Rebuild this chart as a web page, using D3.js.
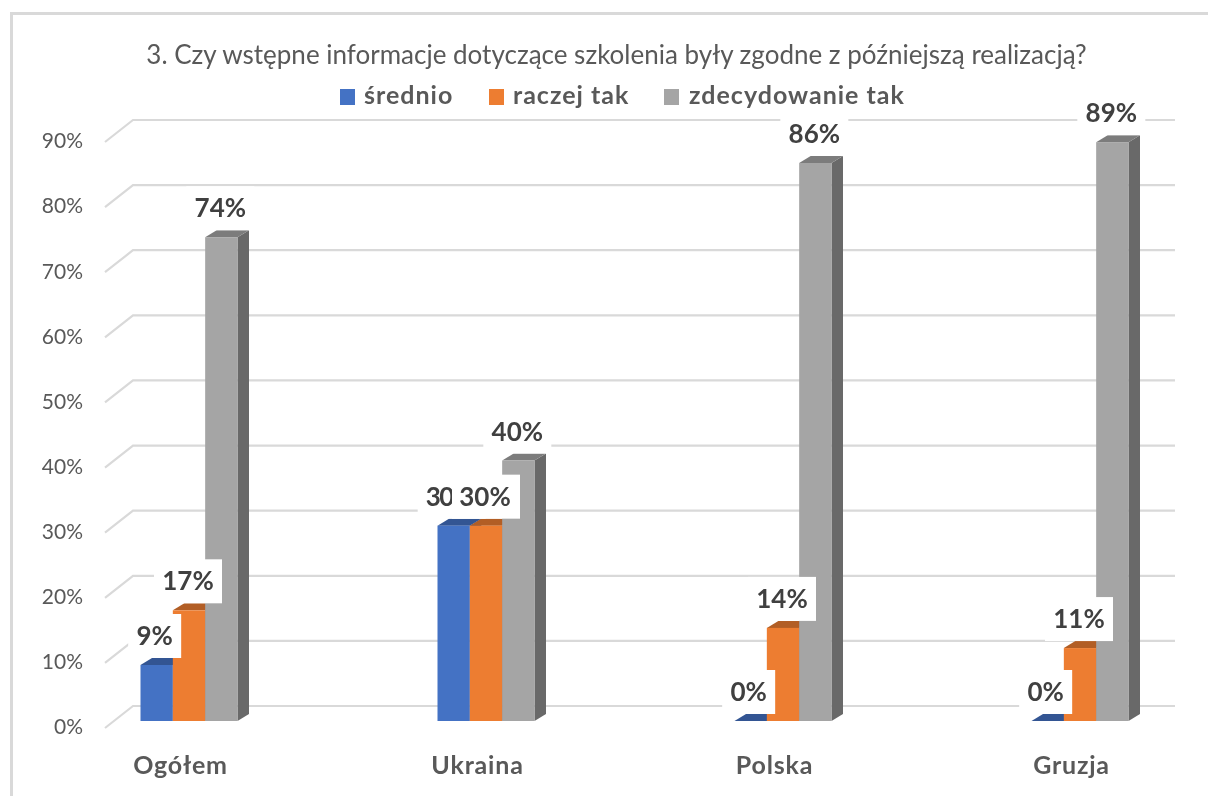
<!DOCTYPE html>
<html><head><meta charset="utf-8">
<script src="https://cdn.jsdelivr.net/npm/d3@7"></script>
<style>html,body{margin:0;padding:0;background:#fff}svg{display:block;filter:blur(0.4px)}text{font-family:Lato,"Open Sans",sans-serif}</style>
</head><body><svg id="c" width="1208" height="796"></svg>
<script>
const titleText = "3. Czy wstępne informacje dotyczące szkolenia były zgodne z późniejszą realizacją?";
const categories = ["Ogółem","Ukraina","Polska","Gruzja"];
const seriesNames = ["średnio","raczej tak","zdecydowanie tak"];
const sredni = [8.6,30,0,0];
const raczej = [17,30,14.3,11.2];
const zdecyd = [74.3,40,85.7,88.9];
const yTicks = [0,10,20,30,40,50,60,70,80,90];
const frontCol = ["#4472C4","#ED7D31","#A5A5A5"];
const topCol = ["#335593","#B25E25","#7C7C7C"];
const sideCol = ["#2F5290","#A85A22","#696969"];

const W=1208,H=796, svg=d3.select("#c");
const depthX=11.5, depthY=7;
const y=d3.scaleLinear().domain([0,90]).range([721,135]);
const wallDy=-15;
const x0=d3.scaleBand().domain(categories).range([40.5,1228.5]);
const x1=d3.scaleBand().domain(d3.range(3)).range([-48.5,48.5]);

svg.append("rect").attr("x",11.5).attr("y",13.5).attr("width",1300).attr("height",900).attr("fill","#fff").attr("stroke","#d9d9d9").attr("stroke-width",3);

svg.append("text").attr("x",616.5).attr("y",55).attr("dy","0.35em").attr("text-anchor","middle").attr("font-size",26).attr("fill","#595959").text(titleText);

// legend
const legendX=[340,489,664], legendTextX=[364,513,689];
seriesNames.forEach((n,i)=>{
  svg.append("rect").attr("x",legendX[i]).attr("y",89).attr("width",15).attr("height",16).attr("fill",frontCol[i]);
  svg.append("text").attr("x",legendTextX[i]).attr("y",95.5).attr("dy","0.35em").attr("font-size",25).attr("font-weight",700).attr("letter-spacing",1).attr("fill","#595959").text(n);
});

// grid
const grid=svg.append("g");
yTicks.forEach(t=>{
  const yy=y(t)+wallDy;
  grid.append("path").attr("fill","none").attr("stroke","#d9d9d9").attr("stroke-width",2.2)
    .attr("d",d3.line()([[105,yy+22],[133,yy],[1175,yy]]));
  svg.append("text").attr("x",83).attr("y",y(t)+6).attr("dy","0.35em").attr("text-anchor","end").attr("font-size",21).attr("fill","#595959").text(t+"%");
});

// bars
const series=[sredni,raczej,zdecyd];
categories.forEach((c,ci)=>{
  series.forEach((s,si)=>{
    const v=s[ci], xa=x0(c)+x0.bandwidth()/2+x1(si), xb=xa+x1.bandwidth(), yt=y(v), yb=y(0);
    const g=svg.append("g");
    if(v>0) g.append("path").attr("fill",sideCol[si]).attr("d",d3.line()([[xb,yt],[xb+depthX,yt-depthY],[xb+depthX,yb-depthY],[xb,yb]])+"Z");
    g.append("path").attr("fill",topCol[si]).attr("d",d3.line()([[xa,yt],[xa+depthX,yt-depthY],[xb+depthX,yt-depthY],[xb,yt]])+"Z");
    if(v>0) g.append("rect").attr("x",xa).attr("y",yt).attr("width",xb-xa).attr("height",yb-yt).attr("fill",frontCol[si]);
  });
});

// labels: where the next label's white box covers this one, only the digits stay visible
const fmt=d3.format(".0f");
series.forEach((s,si)=>{
  categories.forEach((c,ci)=>{
    const v=s[ci];
    const covered=si<2 && series[si+1][ci]===v;
    const cx=x0(c)+x0.bandwidth()/2+x1(si)+x1.bandwidth()/2-(si===0?2:1);
    const cy=y(v)-29;
    const w=fmt(v).length===1?53:68;
    svg.append("rect").attr("x",cx-w/2+(si===1&&ci===1?1:0)).attr("y",cy-22).attr("width",w).attr("height",44).attr("fill","#fff");
    const t=svg.append("text").attr("y",cy).attr("dy","0.35em").attr("font-size",26).attr("font-weight",700).attr("fill","#404040");
    if(covered) t.attr("x",cx-w/2+8).attr("text-anchor","start").attr("letter-spacing",-1.5).text(fmt(v));
    else t.attr("x",cx).attr("text-anchor","middle").text(fmt(v)+"%");
  });
});

// category labels
categories.forEach(c=>{
  svg.append("text").attr("x",x0(c)+x0.bandwidth()/2-8.5).attr("y",765).attr("dy","0.35em").attr("text-anchor","middle").attr("font-size",25).attr("font-weight",700).attr("letter-spacing",0.8).attr("fill","#595959").text(c);
});
</script></body></html>
